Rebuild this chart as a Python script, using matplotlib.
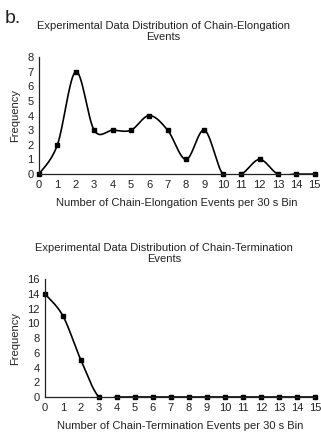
import numpy as np
import matplotlib.pyplot as plt

plt.rcParams['font.family'] = ['Liberation Sans', 'DejaVu Sans']

bins = list(range(16))
elong_freq = [0, 2, 7, 3, 3, 3, 4, 3, 1, 3, 0, 0, 1, 0, 0, 0]
term_freq = [14, 11, 5, 0, 0, 0, 0, 0, 0, 0, 0, 0, 0, 0, 0, 0]


def smooth(x, y, n=30):
    # Excel-style smoothed line: Catmull-Rom through the points
    x = np.asarray(x, float)
    y = np.asarray(y, float)
    px = np.concatenate([[x[0]], x, [x[-1]]])
    py = np.concatenate([[y[0]], y, [y[-1]]])
    xs, ys = [], []
    t = np.linspace(0, 1, n)
    for i in range(1, len(px) - 2):
        p0, p1, p2, p3 = (np.array([px[j], py[j]]) for j in (i - 1, i, i + 1, i + 2))
        c1 = p1 + (p2 - p0) / 6
        c2 = p2 - (p3 - p1) / 6
        pts = ((1 - t) ** 3)[:, None] * p1 + (3 * (1 - t) ** 2 * t)[:, None] * c1 \
            + (3 * (1 - t) * t ** 2)[:, None] * c2 + (t ** 3)[:, None] * p2
        xs.extend(pts[:, 0])
        ys.extend(pts[:, 1])
    return np.array(xs), np.array(ys)


def draw(ax, y, ymax, ystep, title, xlabel, title_x):
    sx, sy = smooth(bins, y)
    ax.plot(sx, sy, color='black', lw=1.2)
    ax.plot(bins, y, 's', color='black', ms=2.5, clip_on=False)
    ax.set_xlim(0, 15)
    ax.set_ylim(0, ymax)
    ax.set_xticks(bins)
    ax.set_yticks(range(0, ymax + 1, ystep))
    ax.tick_params(length=0, labelsize=8, pad=4, colors='#222222')
    for s in ('top', 'right'):
        ax.spines[s].set_visible(False)
    for s in ('left', 'bottom'):
        ax.spines[s].set_color('#222222')
        ax.spines[s].set_linewidth(0.9)
    ax.set_title(title, fontsize=8, pad=12, color='#222222', x=title_x)
    ax.set_xlabel(xlabel, fontsize=8, labelpad=6, color='#222222')
    ax.set_ylabel('Frequency', fontsize=8, labelpad=5, color='#222222')


fig = plt.figure(figsize=(3.21, 4.32), dpi=100)
ax1 = fig.add_axes([0.1215, 0.597, 0.859, 0.271])
ax2 = fig.add_axes([0.140, 0.081, 0.841, 0.273])

draw(ax1, elong_freq, 8, 1,
     'Experimental Data Distribution of Chain-Elongation\nEvents',
     'Number of Chain-Elongation Events per 30 s Bin', 0.451)
draw(ax2, term_freq, 16, 2,
     'Experimental Data Distribution of Chain-Termination\nEvents',
     'Number of Chain-Termination Events per 30 s Bin', 0.44)

fig.text(0.015, 0.978, 'b.', fontsize=14, va='top', ha='left', color='#222222')

fig.savefig('out.png', dpi=100)
